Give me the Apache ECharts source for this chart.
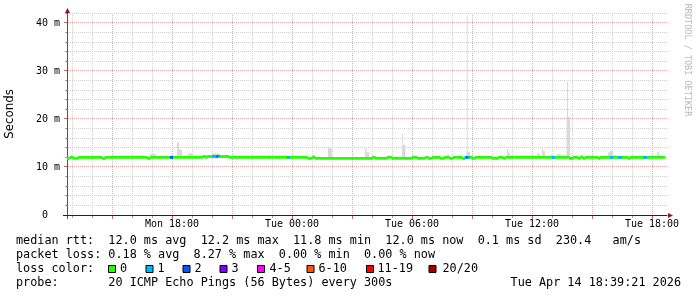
<!DOCTYPE html>
<html><head><meta charset="utf-8">
<script src="https://cdn.jsdelivr.net/npm/echarts@6/dist/echarts.min.js"></script>
<style>html,body{margin:0;padding:0;background:#fff}#c{width:697px;height:297px}</style>
</head><body><div id="c"></div>
<script>
// ---------- data (time in hours since Mon 00:00) ----------
const xTickHours  = [18, 24, 30, 36, 42];
const xTickLabels = ['Mon 18:00', 'Tue 00:00', 'Tue 06:00', 'Tue 12:00', 'Tue 18:00'];
const yTickValues = [0, 10, 20, 30, 40];
const yTickLabels = ['0', '10 m', '20 m', '30 m', '40 m'];

// median rtt (ms): [start h, end h, value]
const medianSegments = [
  [12.75,12.87,11.8],[12.87,13.05,12.0],[13.05,13.30,11.8],[13.30,14.50,12.0],
  [14.50,14.65,11.8],[14.65,16.75,12.0],[16.75,16.90,11.8],[16.90,19.53,12.0],
  [19.53,19.67,12.2],[19.67,19.75,12.0],[19.75,20.83,12.2],[20.83,24.75,12.0],
  [24.75,25.00,11.8],[25.00,25.15,12.0],[25.15,28.00,11.8],[28.00,28.15,12.0],
  [28.15,28.75,11.8],[28.75,29.00,12.0],[29.00,30.00,11.8],[30.00,30.25,12.0],
  [30.25,30.65,11.8],[30.65,30.80,12.0],[30.80,31.00,11.8],[31.00,31.40,12.0],
  [31.40,31.60,11.8],[31.60,31.85,12.0],[31.85,32.05,11.8],[32.05,32.50,12.0],
  [32.50,32.65,11.8],[32.65,33.00,12.0],[33.00,33.15,11.8],[33.15,34.00,12.0],
  [34.00,34.30,11.8],[34.30,34.55,12.0],[34.55,34.65,11.8],[34.65,37.85,12.0],
  [37.85,38.05,11.8],[38.05,38.30,12.0],[38.30,38.40,11.8],[38.40,38.55,12.0],
  [38.55,38.65,11.8],[38.65,39.30,12.0],[39.30,39.40,11.8],[39.40,40.80,12.0],
  [40.80,40.90,11.8],[40.90,42.65,12.0]
];

// smoke (ping spread): [start h, end h, max ms]
const smokeBase = 11.8;
const smoke = [
  [14.63,14.75,12.3],[15.80,16.00,12.3],[16.90,17.20,12.7],[17.40,17.55,12.3],
  [18.25,18.35,15.1],[18.35,18.50,13.6],[18.80,19.03,12.8],[20.00,20.40,12.8],
  [21.50,21.65,12.3],[22.60,22.80,12.3],[22.80,22.90,12.5],[23.30,23.45,12.3],
  [24.30,24.50,12.3],[25.00,25.15,12.5],[25.80,26.00,13.9],[27.65,27.73,13.9],
  [27.73,27.85,13.1],[29.50,29.55,17.0],[29.55,29.67,14.6],[31.75,31.85,12.5],
  [32.73,32.78,41.7],[32.73,32.90,13.2],[32.95,33.10,12.3],[34.30,34.50,12.3],
  [34.75,34.80,13.8],[34.80,34.90,13.0],[35.22,35.27,12.3],[36.25,36.40,12.8],
  [36.50,36.55,14.0],[36.55,36.65,13.3],[36.90,37.10,12.5],[37.25,37.45,12.7],
  [37.55,37.65,12.5],[37.75,37.80,27.8],[37.73,37.90,20.4],[38.40,38.55,12.5],
  [39.15,39.25,12.3],[39.65,39.80,12.3],[39.80,39.90,13.0],[39.90,40.05,13.4],
  [40.05,40.20,12.5],[40.50,40.65,12.3],[41.55,41.65,12.3],[42.25,42.35,13.2],
  [42.35,42.45,12.5],[42.50,42.65,12.3]
];

// packet loss events: [start h, end h, lost pings]
const lossEvents = [
  [17.90,18.05,2],[20.00,20.22,1],[20.22,20.30,2],[20.30,20.40,1],
  [23.75,23.90,1],[32.62,32.70,1],[32.70,32.80,2],[32.80,32.90,1],
  [37.00,37.15,1],[39.90,40.05,1],[40.30,40.50,1],[41.55,41.75,1]
];

const lossLabels = ['0', '1', '2', '3', '4-5', '6-10', '11-19', '20/20'];
const lossColors = ['#26ff00', '#00b8ff', '#0059ff', '#7e00ff', '#ff00ff', '#ff5500', '#ff0000', '#a10000'];

const lineRtt   = 'median rtt:  12.0 ms avg  12.2 ms max  11.8 ms min  12.0 ms now  0.1 ms sd  230.4   am/s';
const lineLoss  = 'packet loss: 0.18 % avg  8.27 % max  0.00 % min  0.00 % now';
const lineColor = 'loss color:';
const lineProbe = 'probe:       20 ICMP Echo Pings (56 Bytes) every 300s';
const lineDate  = 'Tue Apr 14 18:39:21 2026';
const yAxisTitle = 'Seconds';
const watermark = 'RRDTOOL / TOBI OETIKER';

// ---------- styling ----------
const MONO = '"DejaVu Sans Mono", monospace';
const MAJOR = '#eca4a4', MINOR = '#d0d0d0';
const xMin = 12.75, xMax = 42.75;
const yMin = 0, yMax = 42.08;

// grid positions (hourly verticals, 2 ms horizontals)
const gridHours = [];
for (let h = 13; h <= 42; h++) gridHours.push(h);
const gridValues = [];
for (let v = 2; v <= 42; v += 2) gridValues.push(v);

function medianAt(h) {
  for (const s of medianSegments) if (h >= s[0] && h <= s[1]) return s[2];
  return 12.0;
}

const chart = echarts.init(document.getElementById('c'), null, {renderer: 'canvas'});

const graphic = [
  {type: 'line', shape: {x1: 63, y1: 215.5, x2: 67, y2: 215.5}, style: {stroke: '#222', lineWidth: 1}},
  {type: 'line', shape: {x1: 67.5, y1: 215, x2: 67.5, y2: 219}, style: {stroke: '#555', lineWidth: 1}},
  {type: 'polygon', shape: {points: [[67.5, 8], [65, 13], [70, 13]]}, style: {fill: '#901818'}, z: 100},
  {type: 'polygon', shape: {points: [[673, 215.5], [668, 213], [668, 218]]}, style: {fill: '#901818'}, z: 100},
  {type: 'text', x: 10, y: 114, rotation: Math.PI / 2,
    style: {text: yAxisTitle, font: '11.8px "DejaVu Sans"', fill: '#000', align: 'center', verticalAlign: 'middle', textAlign: 'center', textVerticalAlign: 'middle'}},
  {type: 'text', x: 687, y: 60, rotation: -Math.PI / 2,
    style: {text: watermark, font: '8.5px ' + MONO, fill: '#b8b8b8', align: 'center', verticalAlign: 'middle', textAlign: 'center', textVerticalAlign: 'middle'}}
];
function addText(t, x, y, align) {
  graphic.push({type: 'text', x: x, y: y,
    style: {text: t, font: '11.8px ' + MONO, fill: '#000', align: align || 'left', verticalAlign: 'middle', textAlign: align || 'left', textVerticalAlign: 'middle'}});
}
addText(lineRtt, 16, 240.5);
addText(lineLoss, 16, 254.8);
addText(lineColor, 16, 269);
addText(lineProbe, 16, 283.2);
addText(lineDate, 681, 283.2, 'right');
const sqX = [108, 145.5, 182.5, 219.5, 257, 306.5, 366, 428.5];
const lbX = [120, 157.5, 194.5, 231.5, 269.5, 318.5, 377.5, 442.5];
lossLabels.forEach((lab, i) => {
  graphic.push({type: 'rect', shape: {x: sqX[i] + 0.5, y: 265.5, width: 7, height: 7},
    style: {fill: lossColors[i], stroke: '#000', lineWidth: 1}});
  addText(lab, lbX[i], 269);
});

const option = {
  animation: false,
  backgroundColor: '#ffffff',
  grid: {left: 67, right: 30, top: 13, bottom: 82, containLabel: false},
  xAxis: {
    type: 'value', min: xMin, max: xMax, interval: 0.25,
    axisLine: {show: true, lineStyle: {color: '#222', width: 1}},
    axisTick: {show: false},
    splitLine: {show: false},
    axisLabel: {
      margin: 4, color: '#000', fontFamily: MONO, fontSize: 10,
      formatter: v => { const i = xTickHours.findIndex(h => Math.abs(h - v) < 1e-6); return i >= 0 ? xTickLabels[i] : ''; }
    }
  },
  yAxis: {
    type: 'value', min: yMin, max: yMax, interval: 2,
    axisLine: {show: true, lineStyle: {color: '#555', width: 1}},
    axisTick: {show: false},
    splitLine: {show: false},
    axisLabel: {
      margin: 7, color: '#000', fontFamily: MONO, fontSize: 10,
      formatter: v => { const i = yTickValues.findIndex(t => Math.abs(t - v) < 1e-6); if (i < 0) return ''; const s = yTickLabels[i]; return s.indexOf(' ') < 0 ? s + '  ' : s; }
    }
  },
  graphic: graphic,
  series: [
    {
      type: 'custom', name: 'vgrid', data: gridHours, z: 1, silent: true, clip: false,
      encode: {x: 0},
      renderItem: (params, api) => {
        const h = api.value(0);
        const top = api.coord([h, yMax]), bot = api.coord([h, yMin]);
        const x = Math.floor(top[0]) + 0.5;
        const major = h % 3 === 0;
        const yb = Math.round(bot[1]);
        return {type: 'group', children: [
          {type: 'line', shape: {x1: x, y1: Math.round(top[1]), x2: x, y2: yb},
            style: {stroke: major ? MAJOR : MINOR, lineWidth: 1, lineDash: [1, 1]}},
          {type: 'line', shape: {x1: x, y1: yb + 1, x2: x, y2: yb + (major ? 4 : 3)},
            style: {stroke: major ? '#d06060' : '#a0a0a0', lineWidth: 1}}
        ]};
      }
    },
    {
      type: 'custom', name: 'hgrid', data: gridValues, z: 1, silent: true, clip: false,
      encode: {y: 0},
      renderItem: (params, api) => {
        const v = api.value(0);
        const l = api.coord([xMin, v]), r = api.coord([xMax, v]);
        const y = Math.floor(l[1]) + 0.5;
        const major = v % 10 === 0;
        const xl = Math.round(l[0]);
        return {type: 'group', children: [
          {type: 'line', shape: {x1: xl + 1, y1: y, x2: Math.round(r[0]), y2: y},
            style: {stroke: major ? MAJOR : MINOR, lineWidth: 1, lineDash: [1, 1]}},
          {type: 'line', shape: {x1: xl - (major ? 3 : 2), y1: y, x2: xl, y2: y},
            style: {stroke: major ? '#d06060' : '#a0a0a0', lineWidth: 1}}
        ]};
      }
    },
    {
      type: 'custom', name: 'smoke', data: smoke, z: 2, silent: true,
      encode: {x: [0, 1], y: 2},
      renderItem: (params, api) => {
        const p0 = api.coord([api.value(0), api.value(2)]);
        const p1 = api.coord([api.value(1), smokeBase]);
        return {type: 'rect', shape: {x: p0[0], y: p0[1], width: p1[0] - p0[0], height: p1[1] - p0[1]}, style: {fill: '#d9d9d9'}};
      }
    },
    {
      type: 'custom', name: 'median', data: medianSegments, z: 3, silent: true,
      encode: {x: [0, 1], y: 2},
      renderItem: (params, api) => {
        const p0 = api.coord([api.value(0), api.value(2)]);
        const p1 = api.coord([api.value(1), api.value(2)]);
        return {type: 'rect', shape: {x: p0[0], y: p0[1] - 1.4, width: p1[0] - p0[0] + 0.5, height: 2.8}, style: {fill: lossColors[0]}};
      }
    },
    {
      type: 'custom', name: 'loss', data: lossEvents, z: 4, silent: true,
      encode: {x: [0, 1]},
      renderItem: (params, api) => {
        const a = api.value(0), b = api.value(1), n = api.value(2);
        const m = medianAt((a + b) / 2);
        const p0 = api.coord([a, m]);
        const p1 = api.coord([b, m]);
        return {type: 'rect', shape: {x: p0[0], y: p0[1] - 1.4, width: p1[0] - p0[0], height: 2.8}, style: {fill: lossColors[n]}};
      }
    }
  ]
};
chart.setOption(option);
</script>
</body></html>
